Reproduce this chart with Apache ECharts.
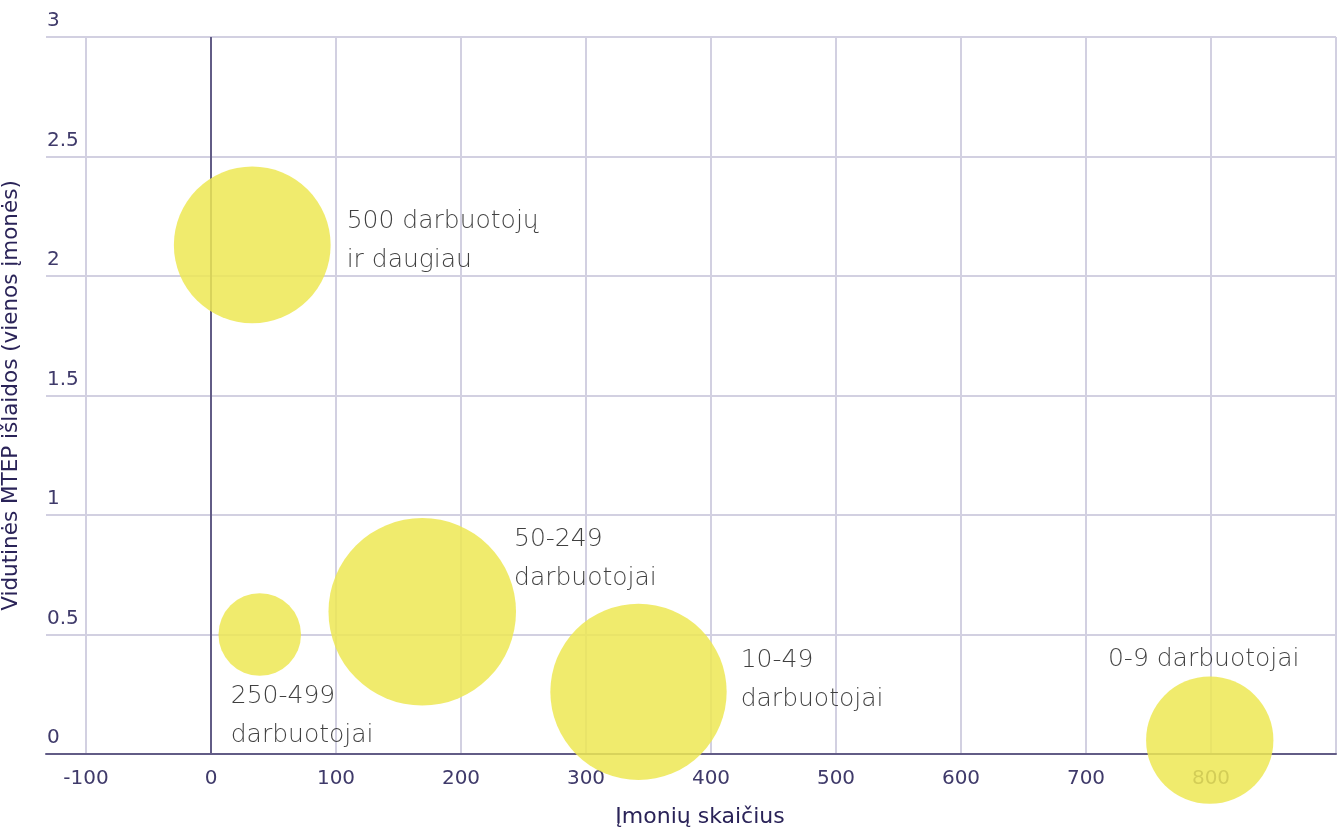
<!DOCTYPE html>
<html>
<head>
<meta charset="utf-8">
<script src="https://cdn.jsdelivr.net/npm/echarts@6/dist/echarts.min.js"></script>
<style>
html,body{margin:0;padding:0;background:#fff;}
#chart{width:1343px;height:827px;}
</style>
</head>
<body>
<div id="chart"></div>
<script>
// ---- data ----
const categories = ['500 darbuotojų\nir daugiau', '250-499\ndarbuotojai', '50-249\ndarbuotojai', '10-49\ndarbuotojai', '0-9 darbuotojai'];
const companyCount = [33, 39, 169, 342, 799];          // x: Įmonių skaičius
const avgSpending = [2.13, 0.50, 0.595, 0.26, 0.058];  // y: vidutinės MTEP išlaidos
const xAxisRange = [-132, 900];
const yAxisRange = [0, 3];
const xTitle = 'Įmonių skaičius';
const yTitle = 'Vidutinės MTEP išlaidos (vienos įmonės)';

// ---- styles ----
const FONT = 'DejaVu Sans';
const labelPlacement = [
  {position: 'right', distance: 16, offset: [0, -4]},
  {position: 'bottom', distance: 0, offset: [-29, 1], align: 'left'},
  {position: 'right', distance: -2, offset: [0, -53]},
  {position: 'right', distance: 14, offset: [0, -12]},
  {position: 'top', distance: 0, offset: [-6, 3]}
];

const seriesData = categories.map((c, i) => ({
  name: c,
  value: [companyCount[i], avgSpending[i]],
  label: Object.assign({show: true, formatter: c}, labelPlacement[i])
}));

const chart = echarts.init(document.getElementById('chart'), null, {renderer: 'canvas'});
chart.setOption({
  animation: false,
  grid: {left: 46, right: 7, top: 37, bottom: 73, containLabel: false, outerBoundsMode: 'none'},
  xAxis: {
    type: 'value',
    min: xAxisRange[0], max: xAxisRange[1],
    splitNumber: 10, minInterval: 100, maxInterval: 100,
    name: xTitle, nameLocation: 'middle', nameGap: 52,
    nameTextStyle: {fontFamily: FONT, fontSize: 22, color: '#2a2358', padding: [0, 0, 0, 18]},
    axisLine: {show: true, onZero: false, lineStyle: {color: '#625c86', width: 2}},
    axisTick: {show: false},
    axisLabel: {fontFamily: FONT, fontSize: 20, color: '#3f3a6a', margin: 15, showMinLabel: false, showMaxLabel: false},
    splitLine: {show: true, showMinLine: false, showMaxLine: true, lineStyle: {color: '#d2d0e1', width: 2}}
  },
  yAxis: {
    type: 'value',
    min: yAxisRange[0], max: yAxisRange[1], interval: 0.5,
    name: yTitle, nameLocation: 'middle', nameGap: 24,
    nameTextStyle: {fontFamily: FONT, fontSize: 21.5, color: '#2a2358'},
    axisLine: {show: false},
    axisTick: {show: false},
    axisLabel: {inside: true, fontFamily: FONT, fontSize: 20, color: '#3f3a6a', margin: 1,
      verticalAlign: 'bottom', lineHeight: 20, padding: [0, 0, 6, 0]},
    splitLine: {show: true, lineStyle: {color: '#d2d0e1', width: 2}}
  },
  series: [{
    // vertical axis line at x = 0
    type: 'line',
    z: 1,
    silent: true,
    symbol: 'none',
    data: [[0, yAxisRange[0]], [0, yAxisRange[1]]],
    lineStyle: {color: '#625c86', width: 2},
    emphasis: {disabled: true}
  }, {
    type: 'scatter',
    z: 2,
    data: seriesData,
    symbolSize: v => 18.7 * Math.sqrt(v[0] * v[1]),
    itemStyle: {color: '#ede853', opacity: 0.85},
    label: {fontFamily: FONT, fontWeight: 200, fontSize: 25, lineHeight: 39, color: '#1e1e1e'},
    emphasis: {disabled: true}
  }]
});
</script>
</body>
</html>
